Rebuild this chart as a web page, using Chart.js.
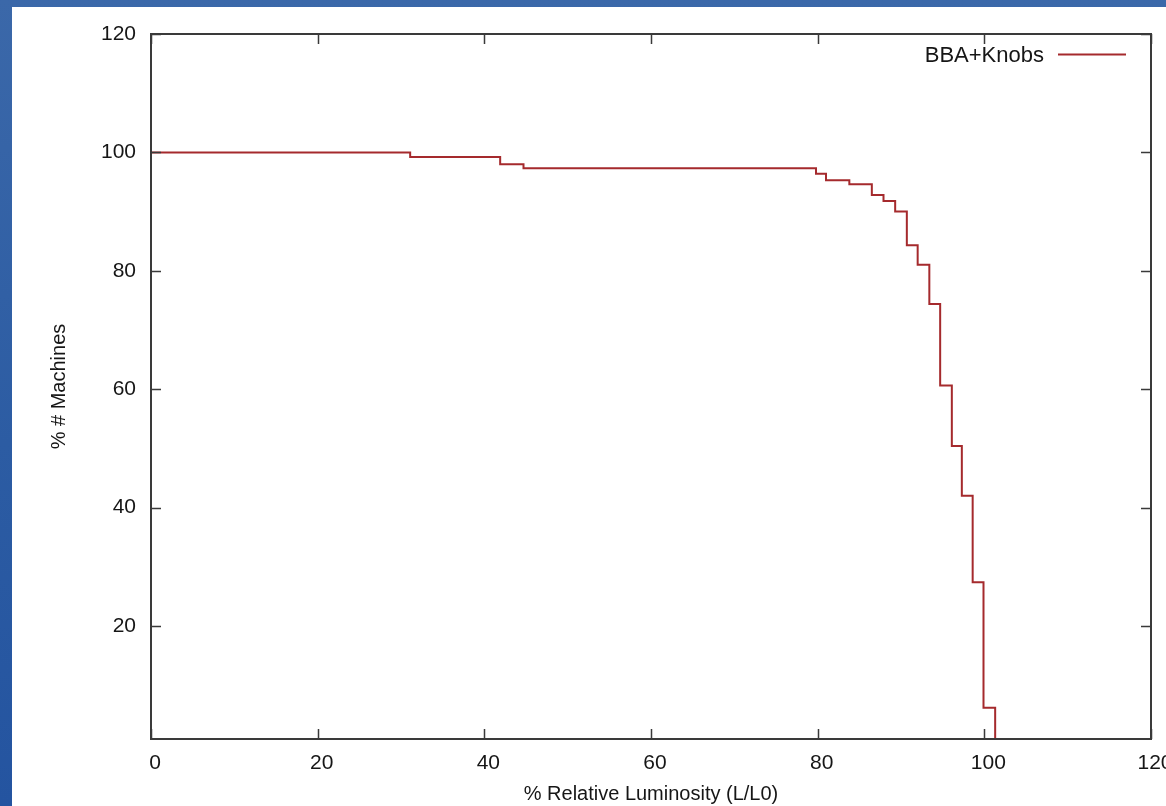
<!DOCTYPE html>
<html>
<head>
<meta charset="utf-8">
<script src="https://cdn.jsdelivr.net/npm/chart.js"></script>
<style>
html, body { margin: 0; padding: 0; }
body {
    width: 1166px; height: 806px; overflow: hidden; position: relative;
    background: linear-gradient(180deg, #3b68a9 0%, #2c5ca3 55%, #2454a0 100%);
}
#panel { position: absolute; left: 12px; top: 7px; width: 1154px; height: 799px; background: #fff; }
canvas { display: block; }
</style>
</head>
<body>
<div id="panel"><canvas id="graph1" width="1154" height="799"></canvas></div>
<script>
// step positions (% relative luminosity) and % of machines from there on
let luminosity = [0, 31.1, 41.9, 44.7, 79.8, 81.0, 83.8, 86.5, 87.9, 89.3, 90.7, 92.0, 93.4, 94.7, 96.1, 97.3, 98.6, 99.9, 101.3];
let machines = [100, 99.2, 98.0, 97.3, 96.4, 95.3, 94.6, 92.8, 91.8, 90.0, 84.3, 81.0, 74.4, 60.6, 50.4, 42.0, 27.4, 6.2, 0];
let xTicks = [0, 20, 40, 60, 80, 100, 120];
let yTicks = [20, 40, 60, 80, 100, 120];
let seriesName = "BBA+Knobs";

let lineColor = "#a52a2d";
let axisColor = "#3a3a3a";
let textColor = "#161616";
let fontFamily = "'Liberation Sans', Arial, Helvetica, sans-serif";

let points = [];
for (let i = 0; i < luminosity.length; i++) {
    points.push({ x: luminosity[i], y: machines[i] });
}

// gnuplot style box with inward ticks + legend top right
const boxPlugin = {
    id: "box",
    afterDraw(chart) {
        const c = chart.ctx;
        const a = chart.chartArea;
        const sx = chart.scales.x;
        const sy = chart.scales.y;
        c.save();
        c.strokeStyle = axisColor;
        c.lineWidth = 2;
        c.strokeRect(a.left, a.top, a.right - a.left, a.bottom - a.top);
        c.lineWidth = 1.5;
        c.beginPath();
        xTicks.forEach(v => {
            const px = Math.round(sx.getPixelForValue(v)) + 0.5;
            c.moveTo(px, a.bottom); c.lineTo(px, a.bottom - 10);
            c.moveTo(px, a.top); c.lineTo(px, a.top + 10);
        });
        yTicks.forEach(v => {
            const py = Math.round(sy.getPixelForValue(v)) + 0.5;
            c.moveTo(a.left, py); c.lineTo(a.left + 10, py);
            c.moveTo(a.right, py); c.lineTo(a.right - 10, py);
        });
        c.stroke();

        // legend
        c.font = "22px " + fontFamily;
        c.fillStyle = textColor;
        c.textAlign = "right";
        c.textBaseline = "middle";
        c.fillText(seriesName, 1032, 49);
        c.strokeStyle = lineColor;
        c.lineWidth = 2;
        c.beginPath();
        c.moveTo(1046, 47.5);
        c.lineTo(1114, 47.5);
        c.stroke();
        c.restore();
    }
};

let ctx = document.getElementById("graph1").getContext("2d");
let chart = new Chart(ctx, {
    type: "line",
    data: {
        datasets: [{
            label: seriesName,
            data: points,
            stepped: true,
            borderColor: lineColor,
            borderWidth: 2,
            pointRadius: 0,
            fill: false
        }]
    },
    options: {
        responsive: false,
        animation: false,
        layout: { padding: { left: 0, top: 27, right: 15, bottom: 0 } },
        plugins: {
            legend: { display: false },
            tooltip: { enabled: false }
        },
        scales: {
            x: {
                type: "linear",
                min: 0,
                max: 120,
                grid: { display: false },
                border: { display: false },
                afterBuildTicks: s => { s.ticks = xTicks.map(v => ({ value: v })); },
                afterFit: s => { s.height = 67; s.paddingLeft = 0; s.paddingRight = 0; },
                ticks: { color: textColor, font: { size: 21, family: fontFamily }, padding: 4, labelOffset: 4, maxRotation: 0 },
                title: {
                    display: true,
                    text: "% Relative Luminosity (L/L0)",
                    color: textColor,
                    font: { size: 20, family: fontFamily },
                    padding: { top: 0, bottom: 0 }
                }
            },
            y: {
                type: "linear",
                min: 0.9,
                max: 120,
                grid: { display: false },
                border: { display: false },
                afterBuildTicks: s => { s.ticks = yTicks.map(v => ({ value: v })); },
                afterFit: s => { s.width = 139; s.paddingTop = 0; s.paddingBottom = 0; },
                ticks: { color: textColor, font: { size: 21, family: fontFamily }, padding: 7 },
                title: {
                    display: true,
                    text: "% # Machines",
                    color: textColor,
                    font: { size: 20, family: fontFamily },
                    padding: { top: 35, bottom: 0 }
                }
            }
        }
    },
    plugins: [boxPlugin]
});
</script>
</body>
</html>
